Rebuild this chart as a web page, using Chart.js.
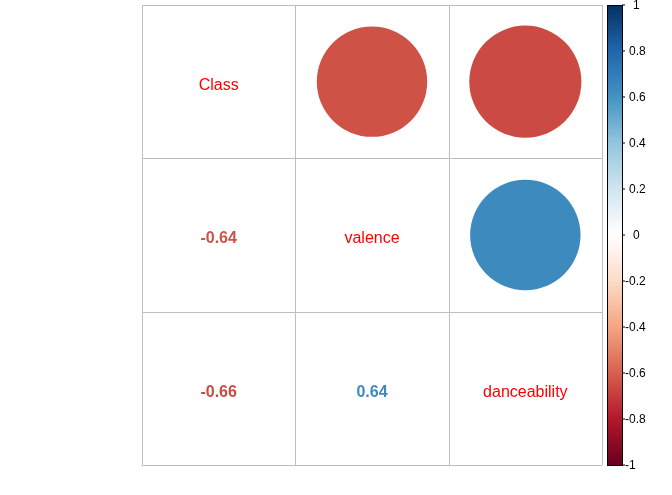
<!DOCTYPE html>
<html><head><meta charset="utf-8">
<script src="https://cdn.jsdelivr.net/npm/chart.js@4"></script>
<style>html,body{margin:0;background:#fff}</style>
</head><body>
<div style="width:672px;height:495px"><canvas id="c"></canvas></div>
<script>
var variables = ['Class', 'valence', 'danceability'];
// correlation matrix, row i / col j
var corr = [
  [1, -0.64, -0.66],
  [-0.64, 1, 0.64],
  [-0.66, 0.64, 1]
];
var legendTicks = [1, 0.8, 0.6, 0.4, 0.2, 0, -0.2, -0.4, -0.6, -0.8, -1];
var palette = ['#67001F','#B2182B','#D6604D','#F4A582','#FDDBC7','#FFFFFF','#D1E5F0','#92C5DE','#4393C3','#2166AC','#053061'];

function hex(h) { return [1,3,5].map(i => parseInt(h.substr(i,2),16)); }
function colorFor(v) {
  let p = (v + 1) / 2 * (palette.length - 1);
  let i = Math.min(Math.floor(p), palette.length - 2), f = p - i;
  let a = hex(palette[i]), b = hex(palette[i+1]);
  return 'rgb(' + a.map((x,k) => Math.round(x + (b[k]-x)*f)).join(',') + ')';
}

var n = variables.length;
var points = [];
for (let i = 0; i < n; i++)
  for (let j = i + 1; j < n; j++)
    points.push({x: j + 1, y: n - i, v: corr[i][j]});

var overlay = {
  id: 'overlay',
  beforeDatasetsDraw(chart) {
    let c = chart.ctx, sx = chart.scales.x, sy = chart.scales.y;
    c.save();
    c.strokeStyle = '#bebebe'; c.lineWidth = 1;
    for (let k = 0; k <= n; k++) {
      let x = Math.round(sx.getPixelForValue(k + 0.5)) + 0.5;
      let y = Math.round(sy.getPixelForValue(k + 0.5)) + 0.5;
      c.beginPath(); c.moveTo(x, sy.getPixelForValue(0.5)); c.lineTo(x, sy.getPixelForValue(n + 0.5)); c.stroke();
      c.beginPath(); c.moveTo(sx.getPixelForValue(0.5), y); c.lineTo(sx.getPixelForValue(n + 0.5), y); c.stroke();
    }
    // circles for the upper triangle
    let cell = sx.getPixelForValue(2) - sx.getPixelForValue(1);
    points.forEach(p => {
      c.beginPath();
      c.arc(sx.getPixelForValue(p.x), sy.getPixelForValue(p.y), 0.45 * cell * Math.sqrt(Math.abs(p.v)), 0, Math.PI * 2);
      c.fillStyle = colorFor(p.v);
      c.fill();
    });
    c.restore();
  },
  afterDatasetsDraw(chart) {
    let c = chart.ctx, sx = chart.scales.x, sy = chart.scales.y;
    c.save();
    c.textAlign = 'center'; c.textBaseline = 'middle';
    for (let i = 0; i < n; i++) {
      for (let j = 0; j <= i; j++) {
        let x = sx.getPixelForValue(j + 1), y = sy.getPixelForValue(n - i) + 4;
        if (i === j) {
          c.font = '16px "Liberation Sans", Arial, sans-serif';
          c.fillStyle = '#ff0000';
          c.fillText(variables[i], x, y);
        } else {
          c.font = 'bold 16px "Liberation Sans", Arial, sans-serif';
          c.fillStyle = colorFor(corr[i][j]);
          c.fillText(corr[i][j].toFixed(2), x, y);
        }
      }
    }
    // colour legend
    let top = sy.getPixelForValue(n + 0.5), bot = sy.getPixelForValue(0.5);
    let lx = 607, lw = 15;
    let g = c.createLinearGradient(0, bot, 0, top);
    palette.forEach((col, k) => g.addColorStop(k / (palette.length - 1), col));
    c.fillStyle = g; c.fillRect(lx, top, lw, bot - top);
    c.strokeStyle = '#000'; c.lineWidth = 1;
    c.strokeRect(lx + 0.5, top + 0.5, lw, bot - top);
    c.font = '12px "Liberation Sans", Arial, sans-serif';
    c.fillStyle = '#000'; c.textAlign = 'left';
    legendTicks.forEach(t => {
      let y = top + (1 - t) / 2 * (bot - top);
      c.beginPath(); c.moveTo(lx + lw, y); c.lineTo(lx + lw + 3, y); c.stroke();
      let s = String(t);
      let tx = t < 0 ? lx + lw + 3 : (t === 0 || t === 1 ? lx + lw + 11 : lx + lw + 7);
      c.fillText(s, tx, y + 1);
    });
    c.restore();
  }
};

new Chart(document.getElementById('c'), {
  type: 'scatter',
  data: {
    datasets: [{
      data: points,
      pointRadius: 0,
      pointHoverRadius: 0
    }]
  },
  options: {
    responsive: true, maintainAspectRatio: false, animation: false,
    layout: {padding: {left: 142, top: 5, right: 70, bottom: 30}},
    plugins: {legend: {display: false}, tooltip: {enabled: false}},
    scales: {
      x: {type: 'linear', min: 0.5, max: n + 0.5, display: false},
      y: {type: 'linear', min: 0.5, max: n + 0.5, display: false}
    }
  },
  plugins: [overlay]
});
</script>
</body></html>
